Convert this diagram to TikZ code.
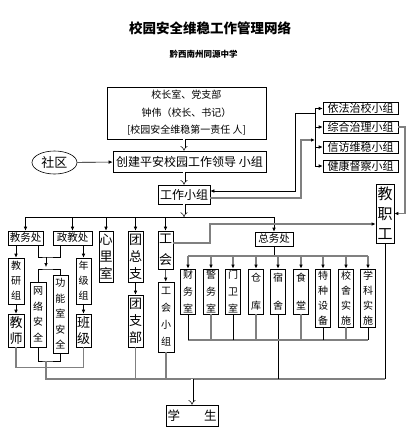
\documentclass[tikz,border=0pt]{standalone}
\usepackage{fontspec}
\setmainfont{Noto Sans CJK SC}
\usetikzlibrary{arrows.meta,shapes.geometric}

\begin{document}
\begin{tikzpicture}[x=1pt, y=-1pt, >={Latex[length=4pt,width=3.5pt]}]

%STYLE SETTINGS
\tikzstyle{hbox}=[draw, line width=0.6pt, inner sep=0pt, align=center]
\tikzstyle{vbox}=[draw, line width=0.6pt, inner sep=0pt, align=center, minimum width=15pt]
\tikzstyle{bline}=[line width=0.6pt]
\tikzstyle{gline}=[line width=1.2pt, gray]
\tikzstyle{garrow}=[gline, -{Latex[length=4pt,width=3.5pt,color=black]}]
\tikzstyle{dblarrow}=[double, double distance=2pt, line width=0.5pt, -{Implies}]
\tikzstyle{bigtxt}=[font=\fontsize{13}{17}\selectfont]
\tikzstyle{smalltxt}=[font=\fontsize{10}{15.5}\selectfont]
\tikzstyle{midtxt}=[font=\fontsize{10.5}{12}\selectfont]

\useasboundingbox (0,0) rectangle (420,448);

%TITLE
\node[font=\fontsize{13.5}{16}\selectfont\bfseries] (title) at (210,28) {校园安全维稳工作管理网络};
\node[font=\fontsize{8.5}{10}\selectfont\bfseries] (school) at (203.5,54) {黔西南州同源中学};

%TOP NODES
\node[hbox, minimum width=159pt, minimum height=52pt, font=\fontsize{10}{17.5}\selectfont] (office) at (186.5,113)
	{校长室、党支部\\钟伟（校长、书记）\\{[}校园安全维稳第一责任 人{]}};
\node[hbox, minimum width=153pt, minimum height=21pt, font=\fontsize{12}{14}\selectfont] (lead) at (189.5,161.5) {创建平安校园工作领导 小组};
\node[draw, ellipse, line width=0.6pt, inner sep=0pt, minimum width=45pt, minimum height=23pt, font=\fontsize{13}{15}\selectfont] (shequ) at (54.5,162.5) {社区};
\node[hbox, minimum width=52pt, minimum height=19pt, font=\fontsize{12}{14}\selectfont] (work) at (184,194.5) {工作小组};

%SECOND ROW
\node[hbox, midtxt, minimum width=35pt, minimum height=14pt] (jiaowu) at (25.5,238) {教务处};
\node[hbox, midtxt, minimum width=39pt, minimum height=14pt] (zhengjiao) at (72.5,238) {政教处};
\node[vbox, bigtxt, minimum width=14pt, minimum height=51pt] (xinli) at (106,256.5) {心\\里\\室};
\node[vbox, bigtxt, minimum height=51pt] (tuanzong) at (135.5,256.5) {团\\总\\支};
\node[vbox, font=\fontsize{13}{21}\selectfont, minimum height=38pt] (gonghui) at (165.5,250) {工\\会};
\node[hbox, midtxt, minimum width=38pt, minimum height=14pt] (zongwu) at (274,239) {总务处};

%LEFT GROUP
\node[vbox, font=\fontsize{10}{15}\selectfont, minimum width=16pt, minimum height=46pt] (jiaoyan) at (16,281) {教\\研\\组};
\node[vbox, font=\fontsize{13}{16}\selectfont, minimum width=16pt, minimum height=33pt] (jiaoshi) at (16,330.5) {教\\师};
\node[vbox, smalltxt, minimum width=16pt, minimum height=65pt] (wangluo) at (38,314.5) {网\\络\\安\\全};
\node[vbox, smalltxt, minimum height=78pt] (gongneng) at (60.5,314) {功\\能\\室\\安\\全};
\node[vbox, font=\fontsize{10}{15}\selectfont, minimum height=46pt] (nianji) at (83.5,281) {年\\级\\组};
\node[vbox, font=\fontsize{13}{16}\selectfont, minimum height=33pt] (banji) at (83.5,330.5) {班\\级};
\node[vbox, bigtxt, minimum height=52pt] (tuanzhibu) at (135.5,321) {团\\支\\部};
\node[vbox, font=\fontsize{10}{17}\selectfont, minimum width=16pt, minimum height=70pt] (ghxz) at (166,317) {工\\会\\小\\组};

%GENERAL AFFAIRS
\node[vbox, font=\fontsize{10}{17}\selectfont, minimum height=45pt] (caiwu) at (188,291.5) {财\\务\\室};
\node[vbox, font=\fontsize{10}{17}\selectfont, minimum height=45pt] (jingwu) at (211,291.5) {警\\务\\室};
\node[vbox, font=\fontsize{10}{17}\selectfont, minimum height=45pt] (menwei) at (233,291.5) {门\\卫\\室};
\node[vbox, font=\fontsize{10}{17}\selectfont, minimum height=45pt] (cangku) at (256,291.5) {仓\\[11pt]库};
\node[vbox, font=\fontsize{10}{17}\selectfont, minimum height=45pt] (sushe) at (278,291.5) {宿\\[11pt]舍};
\node[vbox, font=\fontsize{10}{17}\selectfont, minimum height=45pt] (shitang) at (301,291.5) {食\\[11pt]堂};
\node[vbox, font=\fontsize{10}{15}\selectfont, minimum height=58pt] (tezhong) at (323,298) {特\\种\\设\\备};
\node[vbox, font=\fontsize{10}{15}\selectfont, minimum height=58pt] (xiaoshe) at (346,298) {校\\舍\\实\\施};
\node[vbox, font=\fontsize{10}{15}\selectfont, minimum height=58pt] (xueke) at (368,298) {学\\科\\实\\施};

%RIGHT GROUP
\node[hbox, font=\fontsize{11}{12}\selectfont, minimum width=75pt, minimum height=12pt] (yifa) at (360.5,108.5) {依法治校小组};
\node[hbox, font=\fontsize{11}{12}\selectfont, minimum width=75pt, minimum height=12pt] (zonghe) at (360.5,127) {综合治理小组};
\node[hbox, font=\fontsize{11}{12}\selectfont, minimum width=75pt, minimum height=12pt] (xinfang) at (360.5,147) {信访维稳小组};
\node[hbox, font=\fontsize{11}{12}\selectfont, minimum width=75pt, minimum height=12pt] (jiankang) at (360.5,166) {健康督察小组};
\node[vbox, font=\fontsize{15}{20}\selectfont, minimum width=18pt, minimum height=59pt] (jzg) at (385,213.5) {教\\职\\工};

\node[hbox, font=\fontsize{12.5}{14}\selectfont, minimum width=52pt, minimum height=21pt] (xuesheng) at (192,415.5) {学\hspace{24pt}生};

%HELPER POINTS
\coordinate (bar) at (0,217);
\coordinate (sub) at (0,256);
\coordinate (subb) at (0,340);
\coordinate (base) at (0,379);
\coordinate (bus) at (315,0);
\coordinate (ja) at (46,257);
\coordinate (jb) at (46,269);
\coordinate (jc) at (46,361);
\coordinate (gk) at (210,224);
\coordinate (ka) at (295,113);
\coordinate (kb) at (301,140);
\coordinate (kc) at (405,127);

%CONNECTIONS
\draw[dblarrow] (work.north |- office.south) -- (work.north |- lead.north);
\draw[dblarrow] (work.north |- lead.south) -- (work.north);
\draw[dblarrow] (work.south) -- (work.south |- bar);
\draw[bline, ->] (shequ) -- (lead);

\draw[bline] (jiaowu.north |- bar) -- (zongwu.north |- bar);
\draw[bline, ->] (jiaowu.north |- bar) -- (jiaowu.north);
\draw[bline, ->] (zhengjiao.north |- bar) -- (zhengjiao.north);
\draw[bline, ->] (xinli.north |- bar) -- (xinli.north);
\draw[bline, ->] (tuanzong.north |- bar) -- (tuanzong.north);
\draw[bline, ->] (gonghui.north |- bar) -- (gonghui.north);
\draw[bline, ->] (zongwu.north |- bar) -- (zongwu.north);

\draw[bline, ->] (jiaoyan.north |- jiaowu.south) -- (jiaoyan.north);
\draw[bline, ->] (jiaoyan) -- (jiaoshi);
\draw[bline, ->] (nianji.north |- zhengjiao.south) -- (nianji.north);
\draw[bline, ->] (nianji) -- (banji);
\draw[bline] (wangluo.north |- jiaowu.south) |- (ja) -| ([xshift=-12.5pt]zhengjiao.south);
\draw[bline, ->] (ja) -- ([yshift=2pt]jb);
\draw[bline] (wangluo.north) |- (jb) -| (gongneng.north);
\draw[bline, ->] (tuanzong) -- (tuanzhibu);
\draw[bline, ->] (gonghui) -- (ghxz);

\draw[gline] (jiaoshi.south) -- ++(0,20) -| (banji.south);
\draw[bline] (wangluo.south) |- (jc) -| (gongneng.south);
\draw[gline] (jc) -- (jc |- base) -- (jzg.south |- base);
\draw[gline] (tuanzhibu.south) -- (tuanzhibu.south |- base);
\draw[gline] (ghxz.south) -- (ghxz.south |- base);
\draw[bline] (sushe.south) -- (sushe.south |- base);
\draw[bline] (jzg.south) -- (jzg.south |- base);
\draw[dblarrow] (xuesheng.north |- base) -- (xuesheng.north);

\draw[garrow] ([yshift=7pt]gonghui.east) -| (gk) -- (gk -| jzg.west);

\draw[bline] (zongwu.south) -- (zongwu.south |- sub);
\draw[gline] (caiwu.north |- sub) -- (xueke.north |- sub);
\draw[garrow] (caiwu.north |- sub) -- (caiwu.north);
\draw[garrow] (jingwu.north |- sub) -- (jingwu.north);
\draw[garrow] (menwei.north |- sub) -- (menwei.north);
\draw[garrow] (cangku.north |- sub) -- (cangku.north);
\draw[garrow] (sushe.north |- sub) -- (sushe.north);
\draw[garrow] (shitang.north |- sub) -- (shitang.north);
\draw[garrow] (tezhong.north |- sub) -- (tezhong.north);
\draw[garrow] (xiaoshe.north |- sub) -- (xiaoshe.north);
\draw[garrow] (xueke.north |- sub) -- (xueke.north);

\draw[gline] (caiwu.south |- subb) -- (xueke.south |- subb);
\draw[bline] (caiwu.south) -- (caiwu.south |- subb);
\draw[gline] (jingwu.south) -- (jingwu.south |- subb);
\draw[bline] (menwei.south) -- (menwei.south |- subb);
\draw[gline] (cangku.south) -- (cangku.south |- subb);
\draw[gline] (shitang.south) -- (shitang.south |- subb);
\draw[bline] (tezhong.south) -- (tezhong.south |- subb);
\draw[gline] (xiaoshe.south) -- (xiaoshe.south |- subb);
\draw[bline] (xueke.south) -- (xueke.south |- subb);

\draw[bline] (yifa.west -| bus) -- (jiankang.west -| bus);
\draw[bline, ->] (yifa.west -| bus) -- (yifa.west);
\draw[bline, ->] (zonghe.west -| bus) -- (zonghe.west);
\draw[bline, ->] (xinfang.west -| bus) -- (xinfang.west);
\draw[bline, ->] (jiankang.west -| bus) -- (jiankang.west);
\draw[bline, ->] (ka -| bus) -- (ka) |- ([yshift=3.5pt]work.east);
\draw[garrow] ([yshift=-3.5pt]work.east) -| (kb) -- (kb -| bus);
\draw[garrow] (zonghe.east) -- (kc) |- (jzg.east);

\end{tikzpicture}
\end{document}
